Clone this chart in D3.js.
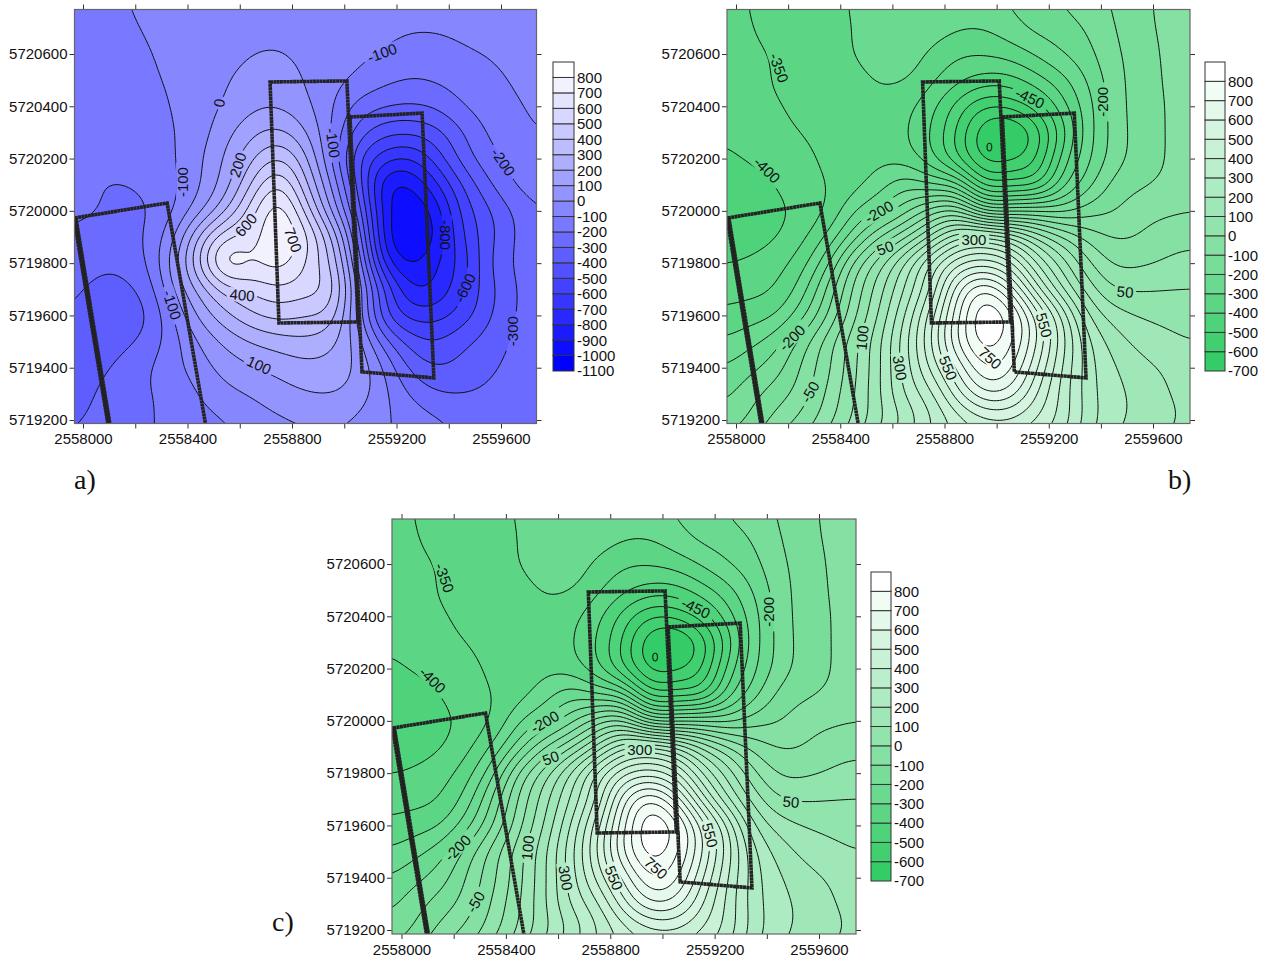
<!DOCTYPE html>
<html lang="en"><head>
<meta charset="utf-8">
<title>Contour maps</title>
<script src="https://cdn.jsdelivr.net/npm/d3@7"></script>
<style>
  body { margin: 0; background: #fff; }
  text { font-family: "Liberation Sans", Arial, sans-serif; fill: #111; }
</style>
</head>
<body>
<svg id="fig" width="1266" height="960"></svg>
<script>
// values, one row per northing, one column per easting
const gridX = [2557950,2558050,2558150,2558250,2558350,2558450,2558550,2558650,2558750,2558850,2558950,2559050,2559150,2559250,2559350,2559450,2559550,2559650,2559750]
const gridY = [5720800,5720700,5720600,5720500,5720400,5720300,5720200,5720100,5720000,5719900,5719800,5719700,5719600,5719500,5719400,5719300,5719200,5719100]

const fieldA = [
  [-160,-135,-105,-80,-65,-50,-40,-30,-25,-30,-40,-50,-60,-65,-65,-60,-55,-50,-45],
  [-170,-150,-120,-90,-70,-55,-40,-25,-20,-30,-45,-60,-75,-90,-90,-80,-70,-60,-50],
  [-180,-165,-135,-105,-75,-50,-25,0,5,-20,-50,-80,-105,-140,-140,-112,-95,-75,-55],
  [-190,-180,-150,-115,-85,-45,-5,30,45,-5,-65,-115,-175,-205,-190,-160,-125,-92,-70],
  [-195,-190,-165,-130,-95,-40,10,80,90,25,-85,-235,-290,-310,-285,-200,-150,-110,-85],
  [-195,-190,-165,-135,-105,-40,70,180,230,110,-100,-340,-470,-485,-440,-310,-190,-130,-95],
  [-195,-190,-170,-140,-110,-10,120,290,420,230,-100,-480,-660,-710,-560,-360,-235,-170,-125],
  [-190,-195,-205,-175,-115,-5,160,420,630,330,0,-410,-890,-910,-730,-500,-320,-190,-150],
  [-185,-190,-235,-205,-105,70,300,570,790,480,90,-310,-850,-990,-870,-570,-420,-290,-195],
  [-210,-240,-250,-185,-10,340,600,640,820,650,320,-190,-850,-1030,-900,-610,-440,-300,-215],
  [-250,-280,-280,-195,60,430,810,690,760,590,400,-90,-740,-920,-810,-670,-410,-290,-220],
  [-280,-320,-325,-260,10,240,450,520,585,540,480,-10,-480,-790,-790,-620,-440,-310,-230],
  [-300,-345,-360,-310,-90,135,280,390,440,395,370,-20,-480,-640,-640,-560,-420,-300,-240],
  [-310,-350,-330,-265,-135,10,130,205,250,280,230,60,-250,-440,-500,-420,-360,-285,-240],
  [-325,-330,-270,-205,-130,-40,40,95,130,165,160,90,-100,-320,-400,-370,-320,-270,-240],
  [-340,-300,-240,-205,-175,-90,-25,10,60,95,105,60,-70,-205,-290,-300,-280,-260,-240],
  [-315,-280,-235,-205,-180,-135,-100,-50,-15,10,20,-15,-85,-135,-185,-225,-255,-265,-260],
  [-290,-260,-230,-205,-185,-150,-120,-80,-50,-20,-10,-40,-90,-130,-170,-205,-235,-250,-255]
]

const fieldB = [
  [-362,-350,-330,-320,-310,-297,-285,-275,-265,-262,-258,-245,-225,-195,-170,-145,-110,-90,-75],
  [-368,-353,-335,-318,-310,-300,-285,-265,-270,-295,-300,-270,-235,-225,-195,-152,-115,-90,-75],
  [-365,-358,-348,-330,-312,-300,-285,-270,-312,-345,-345,-330,-295,-250,-215,-160,-125,-92,-75],
  [-365,-360,-348,-330,-315,-310,-298,-295,-340,-385,-420,-420,-370,-320,-245,-170,-125,-95,-80],
  [-375,-360,-355,-340,-320,-315,-310,-335,-385,-470,-550,-540,-480,-370,-270,-175,-125,-98,-85],
  [-395,-375,-360,-350,-330,-312,-315,-345,-400,-510,-640,-670,-590,-430,-270,-180,-125,-98,-85],
  [-410,-395,-380,-365,-340,-320,-315,-325,-390,-500,-620,-610,-560,-380,-260,-175,-125,-98,-85],
  [-435,-420,-400,-370,-350,-320,-275,-210,-255,-275,-490,-470,-480,-320,-220,-130,-108,-92,-80],
  [-440,-430,-415,-385,-350,-255,-195,-120,-20,20,-175,-170,-150,-170,-120,-103,-70,-60,-50],
  [-440,-425,-405,-365,-295,-175,-50,40,160,300,330,270,150,60,-20,-55,-48,-20,-15],
  [-400,-390,-370,-325,-215,-35,80,210,370,490,520,470,300,180,60,-10,-8,5,18],
  [-370,-365,-350,-280,-140,10,130,255,400,640,770,640,425,250,125,50,45,50,52],
  [-340,-325,-305,-220,-105,35,155,305,480,685,860,790,590,400,200,125,97,85,75],
  [-295,-265,-222,-130,-25,80,190,335,500,710,830,770,610,425,260,175,135,115,100],
  [-250,-215,-175,-95,-15,85,190,325,465,605,755,720,560,400,270,205,165,145,120],
  [-215,-170,-125,-80,10,95,195,310,385,535,650,635,505,385,270,215,185,152,135],
  [-180,-145,-85,-38,30,105,185,260,345,420,480,490,445,385,275,215,185,160,140],
  [-140,-100,-40,10,80,150,230,300,370,420,440,440,400,340,250,195,165,145,125]
]

// colour bands, top of each legend runs one step past the last label
const levelsA = [-1100,-1000,-900,-800,-700,-600,-500,-400,-300,-200,-100,0,100,200,300,400,500,600,700,800,900]
const levelsB = [-700,-600,-500,-400,-300,-200,-100,0,100,200,300,400,500,600,700,800,900]
const linesA = [-1000,-900,-800,-700,-600,-500,-400,-300,-200,-100,0,100,200,300,400,500,600,700]
const linesB = [-600,-550,-500,-450,-400,-350,-300,-250,-200,-150,-100,-50,0,50,100,150,200,250,300,350,400,450,500,550,600,650,700,750,800]

const xTicks = [2558000,2558200,2558400,2558600,2558800,2559000,2559200,2559400,2559600]
const yTicks = [5719200,5719400,5719600,5719800,5720000,5720200,5720400,5720600]

// survey blocks, easting/northing of corners
const blockWest = [[2557969,5719973],[2558322,5720030],[2558475,5719150],[2558105,5719150]]
const blockMid = [[2558716,5720493],[2559010,5720497],[2559053,5719575],[2558750,5719571]]
const blockEast = [[2559022,5720359],[2559298,5720374],[2559343,5719361],[2559068,5719384]]

// contour labels: easting, northing, text, angle
const labelsA = [
  [2558521,5720413,"0",-80],[2558383,5720110,"-100",-90],[2558593,5720176,"200",-72],
  [2558624,5719946,"600",-50],[2558804,5719889,"700",70],[2558609,5719678,"400",5],
  [2558674,5719410,"100",25],[2558341,5719640,"-100",72],[2559145,5720604,"-100",-20],
  [2558957,5720260,"-100",82],[2559608,5720187,"-200",55],[2559646,5719540,"-300",-90],
  [2559462,5719705,"-600",-65],[2559386,5719908,"-800",90]
]
const labelsB = [
  [2558165,5720547,"-350",70],[2558119,5720156,"-400",45],[2558549,5719996,"-200",-30],
  [2559128,5720432,"-450",25],[2559408,5720417,"-200",-90],[2558572,5719858,"50",-20],
  [2558913,5719889,"300",0],[2558215,5719514,"-200",-45],[2558284,5719307,"-50",-60],
  [2558484,5719514,"100",-85],[2558629,5719399,"300",80],[2558814,5719399,"550",68],
  [2558975,5719437,"750",42],[2559182,5719563,"550",75],[2559493,5719690,"50",5]
]

const panels = [
  {id: "a", field: fieldA, levels: levelsA, lines: linesA, labels: labelsA, low: "#0000ff", lowVal: -1100,
   xr: [83, 501], yr: [420, 54], box: [74.5, 9.5, 536.5, 423.5], legend: [553, 62, 21, 309]},
  {id: "b", field: fieldB, levels: levelsB, lines: linesB, labels: labelsB, low: "#33cc66", lowVal: -700,
   xr: [736, 1153], yr: [420, 54], box: [727, 9.5, 1190, 423.5], legend: [1205, 62, 20, 309]},
  {id: "c", field: fieldB, levels: levelsB, lines: linesB, labels: labelsB, low: "#33cc66", lowVal: -700,
   xr: [401.5, 819], yr: [930, 564], box: [392, 519, 856, 934], legend: [871, 572, 20, 309]}
]

const svg = d3.select("#fig")
const K = 8 // refinement of the read grid for drawing

function cubic(a, b, c, d, t) {
  return b + 0.5 * t * (c - a + t * (2 * a - 5 * b + 4 * c - d + t * (3 * (b - c) + d - a)))
}

// smooth the read grid so the contour lines are not cornered
function refine(rows) {
  let nr = rows.length, nc = rows[0].length
  let w = (nc - 1) * K + 1, h = (nr - 1) * K + 1
  let out = new Float64Array(w * h)
  let at = (r, c) => rows[Math.max(0, Math.min(nr - 1, r))][Math.max(0, Math.min(nc - 1, c))]
  for (let j = 0; j < h; j++) {
    let r = Math.min(Math.floor(j / K), nr - 2), tr = j / K - r
    for (let i = 0; i < w; i++) {
      let c = Math.min(Math.floor(i / K), nc - 2), tc = i / K - c
      let v = [-1, 0, 1, 2].map(dr => cubic(at(r + dr, c - 1), at(r + dr, c), at(r + dr, c + 1), at(r + dr, c + 2), tc))
      out[j * w + i] = cubic(v[0], v[1], v[2], v[3], tr)
    }
  }
  if (d3.blur2) d3.blur2({data: out, width: w, height: h}, 3)
  return {w, h, values: Array.from(out)}
}

panels.forEach(p => {
  let x = d3.scaleLinear().domain([2558000, 2559600]).range(p.xr)
  let y = d3.scaleLinear().domain([5719200, 5720600]).range(p.yr)
  let [x0, y0, x1, y1] = p.box
  let top = p.levels[p.levels.length - 2]
  let colour = d3.scaleLinear().domain([p.lowVal, top]).range([p.low, "#ffffff"])

  let g = svg.append("g")
  let defs = g.append("defs")
  defs.append("clipPath").attr("id", "clip-" + p.id)
    .append("rect").attr("x", x0).attr("y", y0).attr("width", x1 - x0).attr("height", y1 - y0)

  let grid = refine(p.field)
  let contours = d3.contours().size([grid.w, grid.h])
  let gx = d3.scaleLinear().domain([0, gridX.length - 1]).range([gridX[0], gridX[gridX.length - 1]])
  let gy = d3.scaleLinear().domain([0, gridY.length - 1]).range([gridY[0], gridY[gridY.length - 1]])
  let path = d3.geoPath(d3.geoTransform({
    point(px, py) {
      this.stream.point(x(gx((px - 0.5) / K)), y(gy((py - 0.5) / K)))
    }
  }))

  // label gaps cut out of the lines
  let mask = defs.append("mask").attr("id", "gaps-" + p.id).attr("maskUnits", "userSpaceOnUse")
    .attr("x", x0).attr("y", y0).attr("width", x1 - x0).attr("height", y1 - y0)
  mask.append("rect").attr("x", x0).attr("y", y0).attr("width", x1 - x0).attr("height", y1 - y0).attr("fill", "#fff")
  mask.selectAll("rect.gap").data(p.labels).enter().append("rect").attr("class", "gap")
    .attr("x", d => -d[2].length * 4.4 - 2).attr("y", -7)
    .attr("width", d => d[2].length * 8.8 + 4).attr("height", 14)
    .attr("transform", d => `translate(${x(d[0])},${y(d[1])}) rotate(${d[3]})`)
    .attr("fill", "#000")

  let plot = g.append("g").attr("clip-path", `url(#clip-${p.id})`)
  plot.append("rect").attr("x", x0).attr("y", y0).attr("width", x1 - x0).attr("height", y1 - y0)
    .attr("fill", colour(p.lowVal))
  plot.selectAll("path.band")
    .data(contours.thresholds(p.levels.slice(0, -1))(grid.values)).enter()
    .append("path").attr("class", "band").attr("d", path).attr("fill", d => colour(d.value))
  plot.append("g").attr("mask", `url(#gaps-${p.id})`)
    .selectAll("path")
    .data(contours.thresholds(p.lines)(grid.values)).enter()
    .append("path").attr("d", path).attr("fill", "none").attr("stroke", "#111").attr("stroke-width", 1)

  // survey blocks
  let outline = d3.line().x(d => x(d[0])).y(d => y(d[1]))
  plot.selectAll("path.block").data([blockWest, blockMid, blockEast]).enter()
    .append("path").attr("class", "block")
    .attr("d", d => outline(d) + "Z")
    .attr("fill", "none").attr("stroke", "#222").attr("stroke-width", 3.6)
    .attr("stroke-dasharray", "3 0.3")
  // the western edge of the west block is drawn heavier
  plot.append("path").attr("d", outline([blockWest[0], blockWest[3]]))
    .attr("fill", "none").attr("stroke", "#222").attr("stroke-width", 5.5)
    .attr("stroke-dasharray", "3 0.3")

  plot.selectAll("text.lab").data(p.labels).enter()
    .append("text").attr("class", "lab")
    .attr("transform", d => `translate(${x(d[0])},${y(d[1])}) rotate(${d[3]})`)
    .attr("text-anchor", "middle").attr("dy", "0.36em").attr("font-size", 15)
    .text(d => d[2])
  if (p.id != "a") {
    plot.append("text")
      .attr("transform", `translate(${x(2558971)},${y(5720244)}) rotate(-15)`)
      .attr("text-anchor", "middle").attr("dy", "0.36em").attr("font-size", 12).attr("font-style", "italic")
      .text("0")
  }

  // frame and axes
  let xLab = d => (d - 2558000) % 400 == 0 ? d : ""
  let style = s => {
    s.selectAll(".domain").remove()
    s.selectAll("line").attr("stroke", "#333")
    s.selectAll("text").attr("font-size", 15)
  }
  g.append("g").attr("transform", `translate(0,${y1})`)
    .call(d3.axisBottom(x).tickValues(xTicks).tickFormat(xLab).tickSize(5).tickPadding(5)).call(style)
  g.append("g").attr("transform", `translate(0,${y0})`)
    .call(d3.axisTop(x).tickValues(xTicks).tickFormat("").tickSize(5)).call(style)
  g.append("g").attr("transform", `translate(${x0},0)`)
    .call(d3.axisLeft(y).tickValues(yTicks).tickFormat(d3.format("d")).tickSize(5).tickPadding(2)).call(style)
  g.append("g").attr("transform", `translate(${x1},0)`)
    .call(d3.axisRight(y).tickValues(yTicks).tickFormat("").tickSize(5)).call(style)
  g.append("rect").attr("x", x0).attr("y", y0).attr("width", x1 - x0).attr("height", y1 - y0)
    .attr("fill", "none").attr("stroke", "#666").attr("stroke-width", 1.2)

  // legend
  let [lx, ly, lw, lh] = p.legend
  let ls = d3.scaleLinear().domain([p.levels[0], p.levels[p.levels.length - 1]]).range([ly + lh, ly])
  let leg = g.append("g")
  leg.selectAll("rect").data(p.levels.slice(0, -1)).enter().append("rect")
    .attr("x", lx).attr("width", lw)
    .attr("y", (d, i) => ls(p.levels[i + 1])).attr("height", (d, i) => ls(d) - ls(p.levels[i + 1]))
    .attr("fill", d => colour(d)).attr("stroke", "#333").attr("stroke-width", 1)
  leg.selectAll("text").data(p.levels.slice(0, -1)).enter().append("text")
    .attr("x", lx + lw + 3).attr("y", d => ls(d)).attr("dy", "0.36em").attr("font-size", 15)
    .text(d => d)
})

// panel letters
const letters = [["a)", 74, 489], ["b)", 1168, 489], ["c)", 272, 931]]
svg.selectAll("text.letter").data(letters).enter().append("text").attr("class", "letter")
  .attr("x", d => d[1]).attr("y", d => d[2])
  .style("font-family", '"Liberation Serif", serif').attr("font-size", 28)
  .text(d => d[0])
</script>
</body>
</html>
